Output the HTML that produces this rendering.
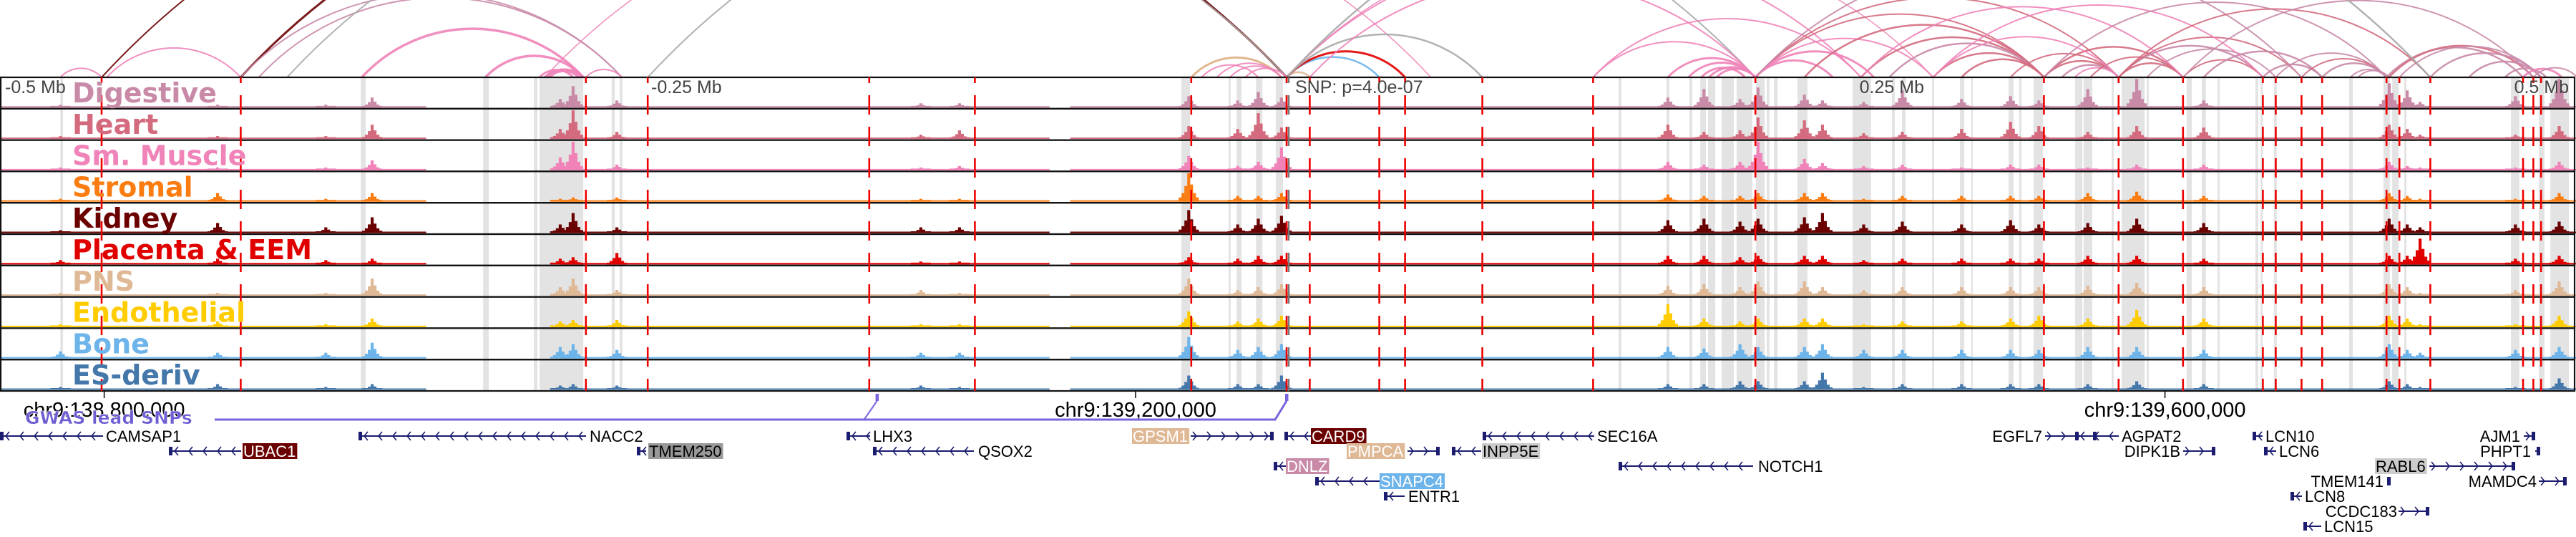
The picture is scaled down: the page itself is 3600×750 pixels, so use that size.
<!DOCTYPE html>
<html><head><meta charset="utf-8"><style>
html,body{margin:0;padding:0;background:#fff;}
svg{display:block;}
</style></head><body>
<svg id="chart" xmlns="http://www.w3.org/2000/svg" width="3600" height="750" viewBox="0 0 3600 750">
<g id="arcs"></g>
<g id="bands"></g>
<g id="signals"></g>
<g id="frames"></g>
<g id="redlines"></g>
<g id="labels"></g>
<g id="axis"></g>
<g id="genes"></g>
</svg>
<script>
// ---- data (positions in kb relative to lead SNP) ----
const tissues = ['Digestive','Heart','Sm. Muscle','Stromal','Kidney','Placenta & EEM','PNS','Endothelial','Bone','ES-deriv'];
const tissueColors = ['#c98aa8','#d46a7e','#f083b8','#fb7d12','#6b0000','#e10000','#dfb895','#ffcc00','#6cb4ea','#4477aa','#aaaaaa'];
const peakPos = [-476,-415,-373,-355,-282,-277,-260,-142,-127,-38,-19,-11,-2,148,162,176,183,201,208,224,239,262,281,292,311,330,356,428,435,440,477,494];
const hDigestive = [.1,.1,.1,.35,.3,.75,.25,.15,.15,.4,.25,.55,.35,.35,.65,.3,.7,.45,.25,.2,.6,.3,.4,.25,.65,1.0,.25,.85,.6,.2,.4,1.0];
const hHeart = [.1,.1,.1,.5,.35,1.0,.25,.15,.3,.45,.35,.9,.4,.5,.25,.3,.75,.65,.5,.2,.25,.35,.6,.45,.25,.45,.4,.5,.35,.15,.15,.45];
const hSmMuscle = [.1,.1,.1,.35,.45,1.0,.2,.1,.15,.5,.15,.3,.8,.3,.2,.3,1.0,.4,.25,.15,.2,.1,.2,.2,.1,.2,.2,.3,.15,.1,.1,.3];
const hStromal = [.1,.3,.1,.3,.1,.15,.15,.1,.1,1.0,.2,.2,.3,.25,.2,.2,.3,.3,.3,.1,.2,.2,.2,.2,.3,.35,.2,.3,.2,.1,.1,.3];
const hKidney = [.1,.35,.2,.55,.3,.7,.2,.2,.2,.8,.3,.5,.6,.45,.5,.4,.5,.55,.7,.3,.4,.3,.45,.3,.35,.5,.35,.5,.3,.2,.3,.4];
const hPlacenta = [.15,.2,.15,.2,.2,.25,.4,.1,.1,.25,.2,.3,.3,.3,.3,.25,.3,.3,.3,.15,.2,.2,.2,.2,.3,.3,.2,.3,.3,.9,.2,.3];
const hPNS = [.1,.1,.1,.6,.3,.6,.2,.2,.1,.6,.2,.3,.4,.35,.4,.3,.5,.5,.3,.2,.3,.3,.3,.3,.35,.45,.3,.4,.3,.1,.2,.5];
const hEndothelial = [.1,.2,.1,.3,.2,.25,.25,.1,.1,.55,.2,.3,.4,.8,.3,.2,.3,.3,.3,.1,.2,.2,.3,.4,.3,.6,.3,.4,.3,.1,.1,.4];
const hBone = [.25,.2,.2,.55,.4,.5,.3,.2,.2,.75,.3,.4,.5,.4,.35,.5,.4,.4,.5,.3,.3,.3,.3,.3,.4,.4,.3,.5,.3,.2,.3,.4];
const hESderiv = [.1,.2,.1,.2,.15,.2,.15,.15,.1,.5,.2,.2,.5,.2,.2,.3,.3,.3,.6,.1,.2,.2,.2,.2,.2,.3,.2,.3,.2,.1,.1,.4];
const coverageStart = [-500,-282,-84];
const coverageEnd = [-334,-92,501];
const snpLinePos = [-460,-406,-272,-248,-162,-121,-37,0,9,36,46,76,119,182,294,323,348,379,384,394,402,427,432,444,480,484,487];
const bandStart = [-476,-359.4,-311.9,-292.2,-290,-262,-258.9,-40.8,-22.5,-19.4,-11.9,-4.2,128.9,147.5,156.4,160.6,163.6,168.9,174.7,182.2,186.4,189.2,198.3,219.7,235,238.9,250.6,261.4,265.8,280.3,284.4,290,306.1,309.4,320.3,324.2,333.9,349.4,355.3,361.4,376.1,378.1,383.3,412.5,425.8,429.2,433.9,475.3,486.1,490.6];
const bandEnd = [-475,-357.5,-309.7,-290.8,-273,-260.8,-257.8,-37.5,-21.7,-17.5,-9.4,-1.4,130,148.6,157.5,162.8,166.4,173.6,180.8,185.6,187.5,190.6,202.2,226.9,236.1,240.3,251.4,263.1,266.4,282.2,285.3,293.6,308.9,312.8,321.1,333.1,334.7,351.4,356.9,362.2,377.2,378.9,384.4,413.9,428.3,431.7,434.7,478.6,488.3,497.8];
const arcFrom = [-476,-458,-406,-460,-406,-399,-359,-311,-290,-288,-287,-286,-272,-288,-248,-388,-37,-37,-33,-27,-22,-16,0,0,0,0,9,0,0,119,119,148,156,161,164,167,182,182,182,182,182,201,223,234,251,262,281,294,294,301,306,312,323,323,323,348,334,356,379,384,394,402,413,416,427,428,432,444,459,473,480,484,251,223,182,294,323,348,251,0];
const arcTo =   [-460,-406, 0, 0,-258,-258,-273,-273,-277,-274,-273,-275,-258, 56, 182, 0, -2, -2,-11, -2, -2, 0, 9, 36, 46, 76, 182,223,251,182,223,182,182,178,182,182,212,228,294,323,251,294,294,294,294,294,323,323,348,323,323,348,348,379,394,379,384,402,402,427,427,427,427,428,480,484,487,487,487,489,495,501,379,348,394,427,444,484,323,444];
const arcTissue = [2,2,4,4,0,0,2,2,2,2,2,2,2,2,10,10,3,6,2,2,2,2,6,8,5,10,2,2,2,2,2,2,2,2,2,2,2,2,1,1,2,1,1,0,1,1,1,1,1,0,2,1,1,0,1,1,0,0,0,0,1,0,0,0,0,1,0,0,0,0,2,0,2,2,0,0,1,0,2,10];
const arcWeight = [2,2,3,2,2,2,3.5,3.5,3,3,3,3,2,1.5,2,2,2,3,2,2,2,2,2.5,2.5,3,2.5,2,2,1.5,2,2,3,3,3,3,3,3,3,2,2,2,2.5,2.5,2.5,2.5,2.5,2,2.5,2.5,2.5,2,2,2.5,2.5,2,2,2,2.5,2.5,2,2,2.5,2,2,2.5,2.5,2,2.5,2.5,2.5,3,2,2,2,2,2,2,2,2,2.5];
const trackHeights = [hDigestive,hHeart,hSmMuscle,hStromal,hKidney,hPlacenta,hPNS,hEndothelial,hBone,hESderiv];
const axisTickKb = [-459,-58.6,341];
const axisTickLabels = ['chr9:138,800,000','chr9:139,200,000','chr9:139,600,000'];
const gwasSnpKb = [-159,0];

// ---- scales ----
const NS='http://www.w3.org/2000/svg';
const SNPX=1798, PXKB=3.6;
function xs(kb){return SNPX+kb*PXKB;}
const TOP=108, TH=43.8, NT=10, BOTTOM=TOP+TH*NT;
function mk(tag,attrs,parent){const e=document.createElementNS(NS,tag);for(const k in attrs)e.setAttribute(k,attrs[k]);parent.appendChild(e);return e;}

const defs=mk('defs',{},document.getElementById('chart'));
const cp=mk('clipPath',{id:'arcclip'},defs);mk('rect',{x:0,y:0,width:3600,height:TOP},cp);

// arcs
const gA=document.getElementById('arcs');gA.setAttribute('clip-path','url(#arcclip)');
for(let i=0;i<arcFrom.length;i++){
  const x1=xs(arcFrom[i]),x2=xs(arcTo[i]);const a=Math.min(x1,x2),b=Math.max(x1,x2);const r=(b-a)*0.68;
  const p=mk('path',{d:`M${a},${TOP} A${r},${r} 0 0 1 ${b},${TOP}`,fill:'none',stroke:tissueColors[arcTissue[i]],'stroke-width':arcWeight[i],opacity:0.9},gA);
  
  
}

// bands
const gB=document.getElementById('bands');
for(let i=0;i<bandStart.length;i++){
  const r=mk('rect',{x:xs(bandStart[i]),y:TOP,width:Math.max(2,xs(bandEnd[i])-xs(bandStart[i])),height:BOTTOM-TOP,fill:'#e3e3e3'},gB);
  
  
}

// signals
const gS=document.getElementById('signals');
const offs=[-12,-8,-4,0,4,8,12], fac=[.15,.3,.55,1,.6,.3,.15];
for(let t=0;t<NT;t++){
  const base=TOP+TH*(t+1)-1.5;const col=tissueColors[t];
  const g=mk('g',{},gS);
  
  
  for(let c=0;c<coverageStart.length;c++){
    mk('rect',{x:xs(coverageStart[c]),y:base-2,width:xs(coverageEnd[c])-xs(coverageStart[c]),height:2,fill:col},g);
  }
  const hs=trackHeights[t];
  for(let p=0;p<peakPos.length;p++){
    const cx=xs(peakPos[p]);
    for(let k=0;k<offs.length;k++){
      const h=Math.max(2.5,hs[p]*40*fac[k]);
      const bar=mk('rect',{x:cx+offs[k]-2,y:base-h,width:4.2,height:h,fill:col},g);
      
      
    }
  }
}

// frames
const gF=document.getElementById('frames');
for(let t=0;t<NT;t++){
  const r=mk('rect',{x:1,y:TOP+TH*t,width:3597,height:TH,fill:'none',stroke:'#111','stroke-width':2.2},gF);
  
  
}
const snpLine=mk('line',{x1:xs(0)+3,y1:TOP,x2:xs(0)+3,y2:BOTTOM,stroke:'#777','stroke-width':2.5,'stroke-dasharray':'27 17','stroke-dashoffset':19},gF);



// red dashed lines
const gR=document.getElementById('redlines');
for(let i=0;i<snpLinePos.length;i++){
  const l=mk('line',{x1:xs(snpLinePos[i]),y1:TOP,x2:xs(snpLinePos[i]),y2:BOTTOM,stroke:'#ee0000','stroke-width':2.6,'stroke-dasharray':'27 17','stroke-dashoffset':19},gR);
  
  
}

// labels
const gL=document.getElementById('labels');
for(let t=0;t<NT;t++){
  const tx=mk('text',{x:101,y:TOP+TH*t+35,fill:tissueColors[t],'font-family':'DejaVu Sans, sans-serif','font-weight':'bold','font-size':38},gL);
  tx.textContent=tissues[t];
  
  
}
const distLabels=[['-0.5 Mb',xs(-500)+9,'start'],['-0.25 Mb',xs(-250)+12,'start'],['SNP: p=4.0e-07',xs(0)+12,'start'],['0.25 Mb',xs(250)-9,'end'],['0.5 Mb',xs(500)-8,'end']];
for(const d of distLabels){
  const tx=mk('text',{x:d[1],y:TOP+22,'text-anchor':d[2],fill:'#444','font-family':'Liberation Sans, sans-serif','font-size':25},gL);
  tx.textContent=d[0];
  
  
}

// axis
const gX=document.getElementById('axis');
for(let i=0;i<axisTickKb.length;i++){
  const x=xs(axisTickKb[i]);
  const tk=mk('line',{x1:x,y1:BOTTOM,x2:x,y2:BOTTOM+10,stroke:'#000','stroke-width':1.5},gX);
  
  
  const tx=mk('text',{x:x,y:582,'text-anchor':'middle',fill:'#000','font-family':'Liberation Sans, sans-serif','font-size':29},gX);
  tx.textContent=axisTickLabels[i];
  
  
}
const gw=mk('path',{d:`M300,586 L${xs(gwasSnpKb[1])-16},586 L${xs(gwasSnpKb[1])},560`,fill:'none',stroke:'#7766dd','stroke-width':3},gX);


const gw2=mk('path',{d:`M${xs(gwasSnpKb[0])-18},586 L${xs(gwasSnpKb[0])},560`,fill:'none',stroke:'#7766dd','stroke-width':2},gX);


for(let i=0;i<gwasSnpKb.length;i++){
  const m=mk('rect',{x:xs(gwasSnpKb[i])-2,y:550,width:4.5,height:10,fill:'#7766dd'},gX);
  
  
}
const gt=mk('text',{x:35,y:592,fill:'#6d5fd3','font-family':'DejaVu Sans, sans-serif','font-weight':'bold','font-size':25,stroke:'#fff','stroke-width':0.5},gX);
gt.textContent='GWAS lead SNPs';



// genes: [name,row,lineX1,lineX2,strand,labelX,anchor,boxFill,textFill]
const genes=[
 ['CAMSAP1',0,0,144,'<',148,'start',null,'#000'],
 ['NACC2',0,501,819,'<',824,'start',null,'#000'],
 ['UBAC1',1,236,337,'<',340,'start','#6b0000','#fff'],
 ['TMEM250',1,890,903,'<',907,'start','#999999','#000'],
 ['LHX3',0,1183,1216,'<',1220,'start',null,'#000'],
 ['QSOX2',1,1220,1361,'<',1367,'start',null,'#000'],
 ['GPSM1',0,1664,1780,'>',1583,'start','#dfb895','#fff'],
 ['CARD9',0,1795,1832,'<',1833,'start','#6b0000','#fff'],
 ['PMPCA',1,1967,2012,'>',1883,'start','#dfb895','#fff'],
 ['INPP5E',1,2029,2070,'<',2072,'start','#cccccc','#000'],
 ['SEC16A',0,2072,2228,'<',2232,'start',null,'#000'],
 ['DNLZ',2,1780,1797,'<',1798,'start','#c98aa8','#fff'],
 ['NOTCH1',2,2262,2450,'<',2457,'start',null,'#000'],
 ['SNAPC4',3,1838,1928,'<',1929,'start','#6cb4ea','#fff'],
 ['ENTR1',4,1934,1963,'<',1968,'start',null,'#000'],
 ['EGFL7',0,2858,2930,'>',2854,'end',null,'#000'],
 ['AGPAT2',0,2900,2961,'<',2965,'start',null,'#000'],
 ['DIPK1B',1,3051,3096,'>',3047,'end',null,'#000'],
 ['LCN10',0,3148,3162,'<',3166,'start',null,'#000'],
 ['LCN6',1,3164,3181,'<',3185,'start',null,'#000'],
 ['AJM1',0,3527,3543,'>',3522,'end',null,'#000'],
 ['PHPT1',1,3543,3550,'>',3537,'end',null,'#000'],
 ['RABL6',2,3395,3515,'>',3320,'start','#cccccc','#000'],
 ['TMEM141',3,3337,3341,'>',3331,'end',null,'#000'],
 ['MAMDC4',3,3548,3587,'>',3545,'end',null,'#000'],
 ['LCN8',4,3201,3217,'<',3221,'start',null,'#000'],
 ['CCDC183',5,3352,3395,'>',3350,'end',null,'#000'],
 ['LCN15',6,3219,3244,'<',3248,'start',null,'#000']
];
const gG=document.getElementById('genes');
const rowY=[609,630,651,672,693,714,735];
for(const gdef of genes){
  const [name,row,x1,x2,strand,lx,anc,box,tc]=gdef;const y=rowY[row];
  const g=mk('g',{},gG);
  
  
  mk('line',{x1:x1,y1:y,x2:x2,y2:y,stroke:'#1c1c70','stroke-width':2},g);
  let d='';
  for(let cx=x1+8;cx<x2-4;cx+=20){d+=strand==='<'?`M${cx+5},${y-6}L${cx},${y}L${cx+5},${y+6}`:`M${cx-5},${y-6}L${cx},${y}L${cx-5},${y+6}`;}
  if(d)mk('path',{d:d,fill:'none',stroke:'#1c1c70','stroke-width':1.6},g);
  mk('rect',{x:(strand==='<'?x1:x2-5),y:y-6,width:5,height:12,fill:'#1c1c70'},g);
  const tx=mk('text',{x:lx,y:y+8,'text-anchor':anc,fill:tc,'font-family':'Liberation Sans, sans-serif','font-size':22},g);
  tx.textContent=name;
  if(box){
    const w=tx.getComputedTextLength();const bx=anc==='end'?lx-w:lx;
    const r=document.createElementNS(NS,'rect');
    r.setAttribute('x',bx-1);r.setAttribute('y',y-11);r.setAttribute('width',w+3);r.setAttribute('height',22);r.setAttribute('fill',box);
    g.insertBefore(r,tx);
  }
}
</script>
</body></html>
